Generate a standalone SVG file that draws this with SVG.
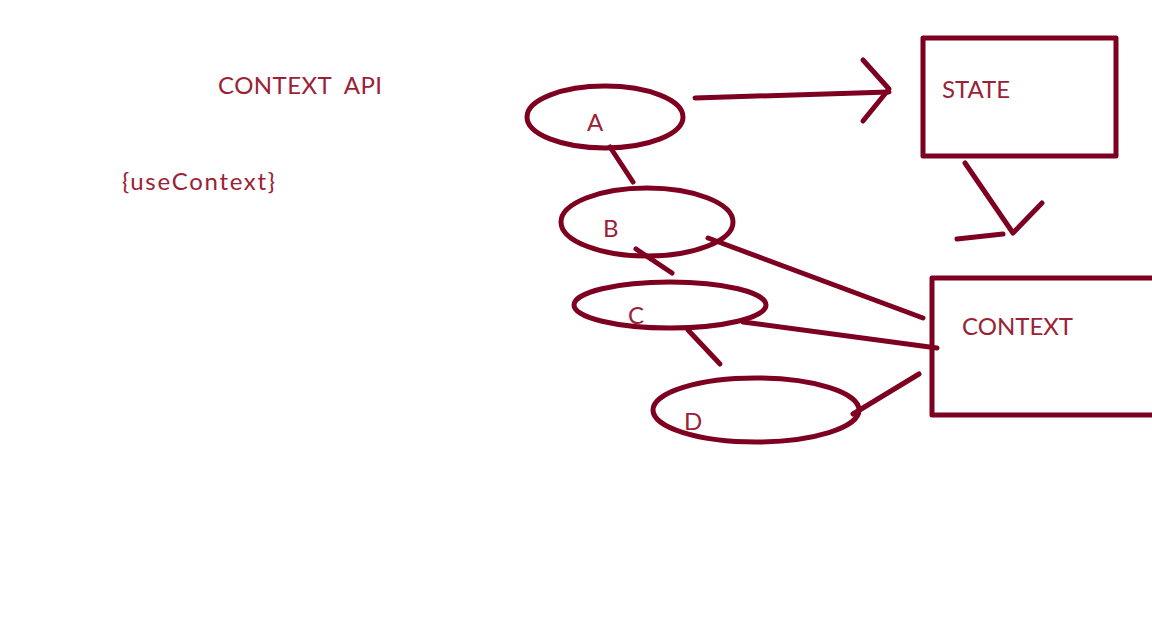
<svg xmlns="http://www.w3.org/2000/svg" width="1152" height="639" viewBox="0 0 1152 639">
<style>
.s{fill:none;stroke:#7e0020;stroke-width:5;stroke-linecap:round;stroke-linejoin:round}
.t{font-family:Lato,"Liberation Sans",sans-serif;fill:#9a2236;font-size:24px}
</style>
<rect width="1152" height="639" fill="#ffffff"/>
<text class="t" x="218" y="94" xml:space="preserve" textLength="164" lengthAdjust="spacing">CONTEXT  API</text>
<text class="t" x="122" y="190" textLength="153" lengthAdjust="spacing">{useContext}</text>
<g id="nodeA"><ellipse class="s" cx="605" cy="117" rx="78" ry="31"/><text class="t" x="587" y="131">A</text></g>
<g id="nodeB"><ellipse class="s" cx="647" cy="222" rx="86" ry="34"/><text class="t" x="603" y="237">B</text></g>
<g id="nodeC"><ellipse class="s" cx="670" cy="305" rx="96" ry="23"/><text class="t" x="628" y="324">C</text></g>
<g id="nodeD"><ellipse class="s" cx="756" cy="410" rx="103" ry="32"/><text class="t" x="684" y="430">D</text></g>
<g id="state"><rect class="s" x="923" y="38" width="193" height="118"/><text class="t" x="942" y="98">STATE</text></g>
<g id="context"><path class="s" d="M1160 278 H932 V415 H1160"/><text class="t" x="962" y="335">CONTEXT</text></g>
<g id="connectors">
<path class="s" d="M695 98 L889 92"/>
<path class="s" d="M863 60 L889 89 L863 121"/>
<path class="s" d="M610 147 L633 182"/>
<path class="s" d="M636 249 L672 273"/>
<path class="s" d="M688 330 L720 364"/>
<path class="s" d="M708 238 L923 318"/>
<path class="s" d="M743 322 L937 348"/>
<path class="s" d="M853 414 L919 374"/>
<path class="s" d="M965 163 L1013 233 L1042 203"/>
<path class="s" d="M957 239 L1003 234"/>
</g>
</svg>
